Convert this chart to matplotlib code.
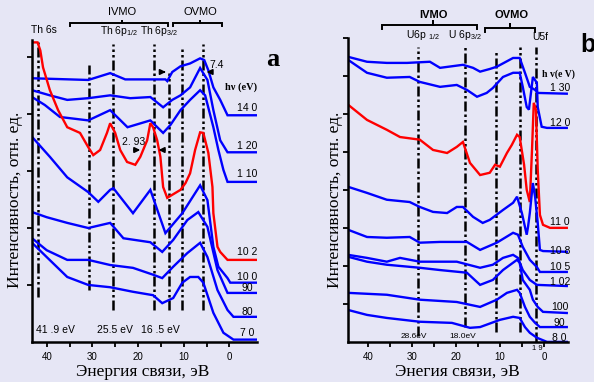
import matplotlib.pyplot as plt

plt.rcParams['font.family'] = ['Liberation Sans', 'DejaVu Sans']
plt.rcParams['mathtext.fontset'] = 'custom'
plt.rcParams['mathtext.rm'] = 'Liberation Sans'
plt.rcParams['mathtext.it'] = 'Liberation Sans'

BLUE = '#0000ff'
RED = '#ff0000'
BG = '#e6e6f5'
SERIF = ['Liberation Serif', 'DejaVu Serif']

# ---- panel a : Th spectra (binding energy, eV / intensity, arb. units)
a140_e = [43.2, 30.9, 26.1, 22.8, 14.0, 13.6, 12.5, 10.7, 8.6, 6.4, 5.5, 4.6, 3.5, 2.0, 0.4, -6.1]
a140_i = [4.63, 4.60, 4.72, 4.61, 4.61, 4.58, 4.74, 4.84, 4.89, 4.98, 4.95, 4.77, 4.47, 4.25, 3.98, 3.98]
a120_e = [43.2, 39.3, 35.5, 30.9, 26.1, 21.7, 17.3, 14.5, 12.5, 10.7, 8.6, 6.4, 4.8, 3.5, 2.0, 0.4, -6.1]
a120_i = [4.42, 4.33, 4.25, 4.28, 4.33, 4.28, 4.30, 4.12, 4.25, 4.33, 4.47, 4.81, 4.60, 4.07, 3.54, 3.33, 3.33]
a110_e = [43.2, 40.4, 37.1, 30.9, 26.1, 22.3, 17.3, 14.5, 12.9, 10.7, 8.6, 6.4, 5.3, 3.5, 2.4, 1.3, 0.4, -6.1]
a110_i = [4.30, 4.16, 3.95, 3.89, 4.07, 3.77, 3.89, 3.67, 3.81, 4.07, 4.25, 4.42, 4.33, 3.77, 3.37, 3.02, 2.81, 2.81]
a102_e = [43.0, 42.0, 41.4, 40.8, 39.3, 37.5, 35.5, 32.7, 30.9, 29.8, 28.3, 26.8, 26.1, 25.0, 23.9, 22.4,
          20.6, 19.5, 18.0, 17.3, 16.7, 15.8, 15.1, 14.5, 13.6, 10.7, 9.6, 8.6, 7.5, 6.4, 5.7, 4.6, 3.7,
          3.5, 2.6, 2.0, 0.4, -6.1]
a102_i = [5.26, 5.26, 5.12, 4.82, 4.42, 4.07, 3.77, 3.67, 3.42, 3.28, 3.37, 3.67, 3.84, 3.67, 3.37, 3.16,
          3.11, 3.25, 3.54, 3.84, 3.77, 3.54, 3.25, 2.72, 2.53, 2.67, 2.79, 2.96, 3.37, 3.68, 3.67, 3.32, 2.72,
          2.26, 1.67, 1.58, 1.44, 1.44]
a100_e = [43.2, 39.3, 35.5, 30.9, 28.7, 26.1, 25.4, 21.1, 17.3, 14.0, 10.3, 6.4, 4.8, 3.5, 2.4, 0.4, -0.2, -6.1]
a100_i = [3.60, 3.25, 2.89, 2.63, 2.46, 2.67, 2.70, 2.26, 2.67, 1.91, 2.26, 2.75, 2.49, 1.67, 1.32, 1.12, 1.04, 1.04]
a90_e = [43.2, 40.0, 35.5, 30.9, 26.1, 23.2, 17.3, 14.7, 12.3, 9.2, 6.8, 4.8, 2.6, 0.4, -6.1]
a90_i = [2.28, 2.19, 2.09, 2.00, 2.09, 1.82, 1.75, 1.58, 1.79, 2.14, 2.28, 2.02, 1.26, 0.86, 0.86]
a80_e = [43.2, 40.0, 35.5, 30.9, 26.1, 21.1, 16.7, 14.7, 12.3, 9.2, 6.4, 4.8, 2.6, 0.4, -0.9, -6.1]
a80_i = [1.82, 1.61, 1.44, 1.44, 1.35, 1.30, 1.18, 1.12, 1.32, 1.56, 1.74, 1.49, 0.91, 0.56, 0.44, 0.44]
a70_e = [43.2, 40.0, 35.5, 30.9, 26.1, 21.1, 16.7, 14.7, 12.3, 10.3, 8.6, 6.8, 5.7, 3.5, 1.3, -0.9, -6.1]
a70_i = [1.74, 1.49, 1.14, 1.00, 0.96, 0.88, 0.82, 0.68, 0.77, 1.04, 1.14, 1.14, 1.04, 0.51, 0.16, 0.04, 0.04]

a_labels = ['14 0', '1 20', '1 10', '10 2', '10 0', '90', '80', '7 0']
a_label_y = [4.11, 3.44, 2.95, 1.58, 1.14, 0.95, 0.53, 0.16]
a_lines = [41.9, 30.8, 25.5, 16.5, 13.3, 10.3, 5.8]
a_lines_top = [5.26, 4.86, 5.24, 5.24, 4.74, 5.18, 5.24]
a_lines_bot = [0.79, 0.91, 0.56, 0.56, 0.56, 0.56, 0.56]

# ---- panel b : U spectra
b130_e = [44.5, 40.2, 35.7, 31.1, 25.9, 23.6, 18.4, 16.1, 14.5, 12.3, 10.7, 7.0, 5.5, 4.3, 3.2, 2.0, 1.4, -5.2]
b130_i = [7.50, 7.37, 7.34, 7.34, 7.37, 7.21, 7.29, 7.21, 7.11, 7.18, 7.24, 7.47, 7.47, 7.08, 6.71, 6.63, 6.55, 6.53]
b120_e = [44.5, 40.2, 35.7, 30.5, 28.2, 23.6, 19.8, 17.5, 15.2, 13.0, 11.6, 9.3, 7.0, 5.5, 4.8, 3.9, 3.4,
          2.5, 1.6, 1.4, 0.5, -0.7, -5.2]
b120_i = [7.42, 7.08, 6.95, 6.97, 6.84, 6.71, 6.76, 6.63, 6.45, 6.55, 6.68, 6.97, 7.08, 7.08, 6.71, 6.18, 6.11,
          6.97, 6.82, 6.18, 5.66, 5.63, 5.63]
b110_e = [44.5, 40.2, 35.7, 32.7, 28.2, 25.2, 22.0, 19.8, 18.4, 16.8, 14.5, 12.3, 11.1, 10.0, 8.4, 7.3, 6.1,
          5.5, 4.5, 3.9, 3.2, 2.7, 2.3, 1.8, 1.4, 0.9, 0.2, -1.4, -5.2]
b110_i = [6.24, 5.84, 5.58, 5.39, 5.32, 5.05, 4.97, 5.13, 5.26, 4.71, 4.39, 4.45, 4.66, 4.61, 4.97, 5.18, 5.45,
          5.39, 4.66, 4.00, 3.68, 5.05, 6.29, 6.11, 4.53, 3.34, 3.08, 3.00, 3.00]
b108_e = [44.5, 40.2, 35.7, 30.5, 28.2, 25.2, 22.0, 19.8, 18.4, 16.1, 13.9, 12.3, 9.3, 7.0, 6.1, 5.0, 3.9,
          3.6, 3.2, 2.5, 2.0, 1.4, 0.9, 0.2, -5.2]
b108_i = [4.08, 3.92, 3.74, 3.68, 3.55, 3.42, 3.39, 3.55, 3.55, 3.29, 3.13, 3.21, 3.47, 3.66, 3.82, 3.39, 2.82,
          3.03, 3.39, 4.18, 3.82, 3.13, 2.42, 2.39, 2.37]
b105_e = [44.5, 40.2, 35.7, 30.5, 28.2, 23.6, 17.5, 14.5, 10.7, 7.0, 5.9, 4.8, 3.2, 1.6, 0.9, -5.2]
b105_i = [2.95, 2.76, 2.74, 2.76, 2.61, 2.63, 2.63, 2.42, 2.61, 2.87, 2.82, 2.50, 2.16, 1.97, 1.84, 1.84]
b102_e = [44.5, 40.2, 35.7, 32.7, 28.2, 19.8, 14.5, 11.6, 9.3, 7.0, 5.9, 4.8, 3.2, 1.6, -5.2]
b102_i = [2.29, 2.21, 2.11, 2.21, 2.11, 2.11, 1.95, 2.03, 2.21, 2.29, 2.21, 1.89, 1.63, 1.50, 1.47]
b100_e = [44.5, 40.2, 35.7, 28.2, 23.6, 17.5, 14.5, 11.6, 9.3, 6.1, 5.5, 4.8, 3.2, 2.5, 1.4, 0.2, -5.2]
b100_i = [2.24, 2.11, 2.03, 1.95, 1.89, 1.82, 1.50, 1.63, 1.89, 2.16, 2.08, 1.63, 1.37, 1.11, 0.92, 0.79, 0.76]
b90_e = [44.5, 35.7, 28.2, 19.8, 14.5, 10.7, 8.4, 6.1, 5.5, 4.3, 3.2, 2.0, 0.9, -5.2]
b90_i = [1.29, 1.24, 1.11, 1.05, 0.92, 1.11, 1.29, 1.37, 1.29, 0.92, 0.66, 0.50, 0.39, 0.39]
b80_e = [44.5, 40.2, 35.7, 28.2, 20.9, 16.8, 14.5, 10.0, 7.0, 5.5, 4.3, 3.2, 1.6, -0.7, -5.2]
b80_i = [0.84, 0.71, 0.63, 0.53, 0.50, 0.37, 0.39, 0.58, 0.66, 0.63, 0.39, 0.24, 0.11, 0.0, 0.0]

b_labels = ['1 30', '12 0', '11 0', '10 8', '10 5', '1 02', '100', '90', '8 0']
b_label_y = [6.68, 5.76, 3.16, 2.39, 1.97, 1.58, 0.92, 0.50, 0.11]
b_lines = [28.6, 18.0, 10.8, 5.5, 1.9]
b_lines_top = [7.76, 7.76, 7.68, 7.76, 7.76]
b_lines_bot = [0.15, 0.4, 0.25, 0.25, 0.0]

a_curves = [(a140_e, a140_i, BLUE), (a120_e, a120_i, BLUE), (a110_e, a110_i, BLUE),
            (a102_e, a102_i, RED), (a100_e, a100_i, BLUE), (a90_e, a90_i, BLUE),
            (a80_e, a80_i, BLUE), (a70_e, a70_i, BLUE)]
b_curves = [(b130_e, b130_i, BLUE), (b120_e, b120_i, BLUE), (b110_e, b110_i, RED),
            (b108_e, b108_i, BLUE), (b105_e, b105_i, BLUE), (b102_e, b102_i, BLUE),
            (b100_e, b100_i, BLUE), (b90_e, b90_i, BLUE), (b80_e, b80_i, BLUE)]

DASH = (4, 1.2, 1, 1.2, 1, 1.2)


def style_axes(ax, xlim, ylim, nyt):
    ax.set_facecolor('none')
    ax.set_xlim(*xlim)
    ax.set_ylim(*ylim)
    for s in ['top', 'right']:
        ax.spines[s].set_visible(False)
    for s in ['left', 'bottom']:
        ax.spines[s].set_linewidth(1.8)
    ax.set_xticks([40, 30, 20, 10, 0])
    ax.set_xticks([35, 25, 15, 5], minor=True)
    ax.set_yticks(range(1, nyt + 1))
    ax.set_yticklabels([])
    ax.tick_params(which='both', direction='out', length=3.5, width=1.3, labelsize=7, pad=4)


def bracket(ax, x0, x1, y, xm, h):
    ax.plot([x0, x0, xm, xm, xm, x1, x1], [y - h, y, y, y + h, y, y, y - h],
            color='k', lw=1.4, clip_on=False, solid_joinstyle='miter')


fig = plt.figure(figsize=(5.94, 3.82), dpi=100)
fig.patch.set_facecolor(BG)

# ================= panel a
ax = fig.add_axes([0.054, 0.105, 0.379, 0.79])
style_axes(ax, (43.2, -6.1), (0, 5.30), 5)
for e, lo, hi in zip(a_lines, a_lines_bot, a_lines_top):
    ax.plot([e, e], [lo, hi], color='k', lw=1.8, dashes=DASH, clip_on=False)
for e, i, c in a_curves:
    ax.plot(e, i, color=c, lw=1.7, solid_joinstyle='miter')
for lab, y in zip(a_labels, a_label_y):
    ax.text(-3.9, y, lab, fontsize=7.5, ha='center', va='center')

bracket(ax, 34.9, 13.4, 5.60, 23.5, 0.06)
bracket(ax, 12.3, 1.5, 5.60, 6.4, 0.06)
ax.text(23.5, 5.70, 'IVMO', fontsize=8, ha='center', va='bottom', clip_on=False)
ax.text(6.4, 5.70, 'OVMO', fontsize=8, ha='center', va='bottom', clip_on=False)
ax.text(40.5, 5.39, 'Th 6s', fontsize=7.5, ha='center', va='bottom')
ax.text(28.3, 5.33, 'Th 6p$_{\\mathregular{1/2}}$', fontsize=7.5, ha='left', va='bottom')
ax.text(19.5, 5.33, 'Th 6p$_{\\mathregular{3/2}}$', fontsize=7.5, ha='left', va='bottom')
ax.text(1.0, 4.47, 'h\u03bd (eV)', fontsize=7.5, fontweight='bold', family=SERIF, ha='left', va='center')
ax.text(4.3, 4.78, '7.4', fontsize=7.5, ha='left', va='bottom')
ax.annotate('', xy=(13.3, 4.74), xytext=(15.0, 4.74),
            arrowprops=dict(arrowstyle='-|>', color='k', lw=1.2, mutation_scale=8))
ax.annotate('', xy=(5.6, 4.74), xytext=(3.4, 4.74),
            arrowprops=dict(arrowstyle='-|>', color='k', lw=1.2, mutation_scale=8))
ax.text(21.0, 3.42, '2. 93', fontsize=7.5, ha='center', va='bottom')
ax.annotate('', xy=(18.9, 3.37), xytext=(21.5, 3.37),
            arrowprops=dict(arrowstyle='-|>', color='k', lw=1.2, mutation_scale=8))
ax.annotate('', xy=(16.1, 3.37), xytext=(13.5, 3.37),
            arrowprops=dict(arrowstyle='-|>', color='k', lw=1.2, mutation_scale=8))
ax.text(42.4, 0.12, '41 .9 eV', fontsize=7.5, ha='left', va='bottom')
ax.text(28.9, 0.12, '25.5 eV', fontsize=7.5, ha='left', va='bottom')
ax.text(19.4, 0.12, '16 .5 eV', fontsize=7.5, ha='left', va='bottom')

fig.text(273 / 594, 1 - 60 / 382, 'a', fontsize=19, fontweight='bold', family=SERIF,
         ha='center', va='center')
fig.text(15 / 594, 1 - 200 / 382, 'Интенсивность, отн. ед.', rotation=90, fontsize=12.5,
         family=SERIF, ha='center', va='center')
fig.text(143 / 594, 1 - 372 / 382, 'Энергия связи, эВ', fontsize=12.5, family=SERIF,
         ha='center', va='center')

# ================= panel b
bx = fig.add_axes([0.586, 0.105, 0.370, 0.796])
style_axes(bx, (44.5, -5.45), (0, 8.0), 8)
for e, lo, hi in zip(b_lines, b_lines_bot, b_lines_top):
    bx.plot([e, e], [lo, hi], color='k', lw=1.8, dashes=DASH, clip_on=False)
for e, i, c in b_curves:
    bx.plot(e, i, color=c, lw=1.7, solid_joinstyle='miter')
for lab, y in zip(b_labels, b_label_y):
    bx.text(-3.6, y, lab, fontsize=7.5, ha='center', va='center')

bracket(bx, 36.8, 15.2, 8.34, 25.2, 0.12)
bracket(bx, 13.4, 2.1, 8.26, 7.7, 0.12)
bx.text(25.2, 8.47, 'IVMO', fontsize=8, fontweight='bold', ha='center', va='bottom')
bx.text(7.3, 8.47, 'OVMO', fontsize=8, fontweight='bold', ha='center', va='bottom')
bx.text(31.4, 7.90, 'U6p $_{\\mathregular{1/2}}$', fontsize=7.5, ha='left', va='bottom')
bx.text(21.8, 7.90, 'U 6p$_{\\mathregular{3/2}}$', fontsize=7.5, ha='left', va='bottom')
bx.text(0.9, 7.90, 'U5f', fontsize=7.5, ha='center', va='bottom')
bx.text(0.5, 7.05, 'h v(e V)', fontsize=7, fontweight='bold', family=SERIF, ha='left', va='center')
bx.text(29.5, 0.05, '28.6eV', fontsize=6, ha='center', va='bottom')
bx.text(18.4, 0.05, '18.0eV', fontsize=6, ha='center', va='bottom')
bx.text(1.6, -0.08, '1 9', fontsize=5.5, ha='center', va='top')

fig.text(580 / 594, 1 - 45 / 382, 'b', fontsize=18, fontweight='bold', ha='left', va='center')
fig.text(335 / 594, 1 - 200 / 382, 'Интенсивность, отн. ед.', rotation=90, fontsize=12.5,
         family=SERIF, ha='center', va='center')
fig.text(457 / 594, 1 - 372 / 382, 'Энегия связи, эВ', fontsize=12.5, family=SERIF,
         ha='center', va='center')

fig.savefig('out.png', dpi=100, facecolor=BG)
